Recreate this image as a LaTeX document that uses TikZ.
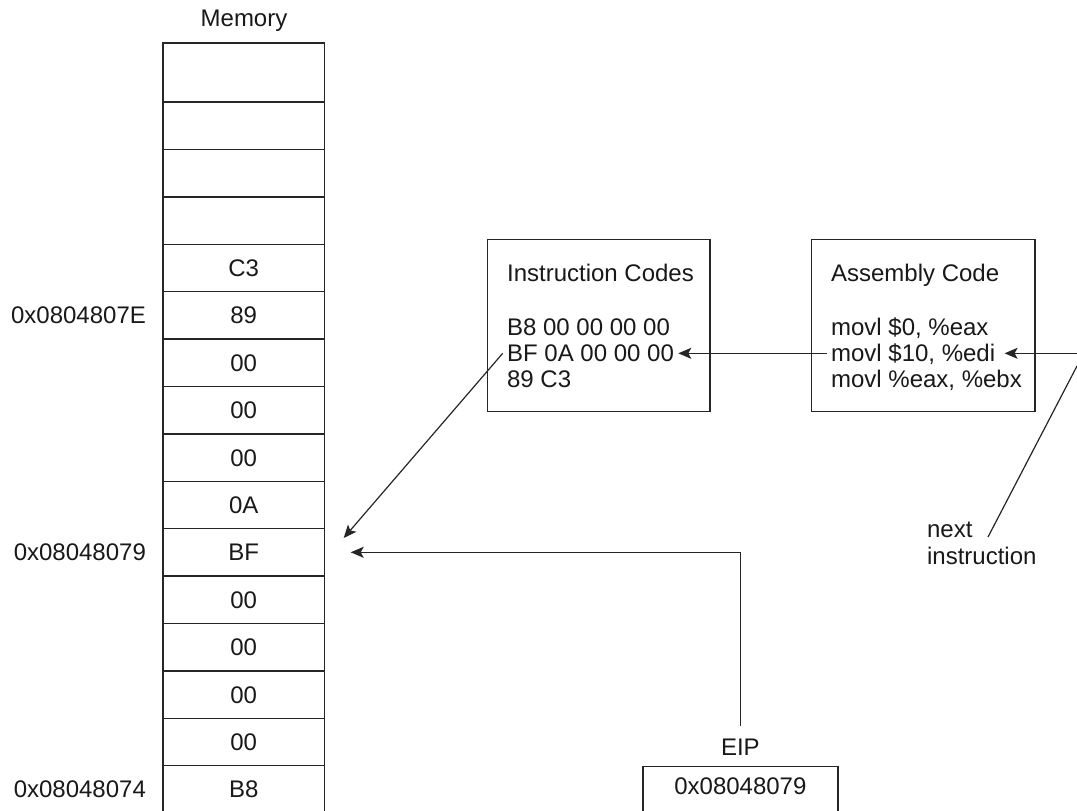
\documentclass[tikz,border=0pt]{standalone}
\usepackage{fontspec}
\setmainfont{Liberation Sans}
\usetikzlibrary{arrows.meta,positioning}
\begin{document}
\begin{tikzpicture}[x=0.5pt,y=-0.5pt,
  every node/.style={font=\fontsize{12}{13.35}\selectfont, text=black!90},
  cell/.style={draw=black!85, line width=0.7pt, minimum width=80.75pt,
    minimum height=23.7pt, inner sep=0pt, text height=8.6pt, text depth=0pt},
  txt/.style={inner xsep=2pt, inner ysep=0pt, text height=8.6pt, text depth=0pt},
  addr/.style={inner sep=0pt, text height=8.6pt, text depth=0pt},
  box/.style={draw=black!85, line width=0.75pt, inner sep=0pt},
  arr/.style={draw=black!85, line width=0.6pt, -{Stealth[length=6.5pt,width=5.5pt,inset=1.5pt]}},
  plain/.style={draw=black!85, line width=0.6pt}]
\useasboundingbox (0,0) rectangle (1077,810);
\fill[white] (0,0) rectangle (1077,810);
% memory column
\node[txt] (memlbl) at (244,18) {Memory};
\node[cell, minimum height=29.5pt] (c0) at (243.75,72.5) {};
\foreach \k/\t in {1/{},2/{},3/{},4/C3,5/89,6/00,7/00,8/00,9/0A,10/BF,11/00,12/00,13/00,14/00,15/B8}
  \node[cell] (c\k) at (243.75,{102+47.4*(\k-1)+23.7}) {\t};
\node[addr, left=8pt of c5] (a1) {0x0804807E};
\node[addr, left=8pt of c10] (a2) {0x08048079};
\node[addr, left=8pt of c15] (a3) {0x08048074};
% instruction codes
\node[box, minimum width=111.35pt, minimum height=86.2pt] (icbox) at (598.65,325.5) {};
\node[txt, anchor=west] (ic0) at (502.7,272.7) {Instruction Codes};
\node[txt, anchor=west] (ic1) at (502.7,326.7) {B8 00 00 00 00};
\node[txt, anchor=west] (ic2) at (502.7,353.3) {BF 0A 00 00 00};
\node[txt, anchor=west] (ic3) at (502.7,379.3) {89 C3};
% assembly code
\node[box, minimum width=111.65pt, minimum height=86.2pt] (asmbox) at (923.35,325.5) {};
\node[txt, anchor=west] (asm0) at (826.7,272.7) {Assembly Code};
\node[txt, anchor=west] (asm1) at (826.7,326.7) {movl \$0, \%eax};
\node[txt, anchor=west] (asm2) at (826.7,353.3) {movl \$10, \%edi};
\node[txt, anchor=west] (asm3) at (826.7,379.3) {movl \%eax, \%ebx};
% EIP
\node[box, minimum width=97.35pt, minimum height=23.5pt] (eipbox) at (740.4,790) {};
\node[txt] (eipval) at (740.4,786) {0x08048079};
\node[txt, inner ysep=6pt] (eiplbl) at (740.4,747) {EIP};
% next instruction
\node[align=left, anchor=base west, inner sep=0pt] (nxlbl) at (926.7,564) {next\\instruction};
\coordinate (pc) at (1077,353.3);
\coordinate (nxa) at (1077,366);
\coordinate (nxb) at (988,537);
% connectors
\draw[arr] (asm2.west) -- (ic2.east);
\draw[arr] (pc) -- ([xshift=2.5pt]asm2.east);
\draw[arr] (ic2.west) -- ([xshift=9.25pt,yshift=7.15pt]c10.east);
\draw[arr] (eiplbl.north) |- ([xshift=12.75pt]c10.east);
\draw[plain] (nxa) -- (nxb);
\end{tikzpicture}
\end{document}
